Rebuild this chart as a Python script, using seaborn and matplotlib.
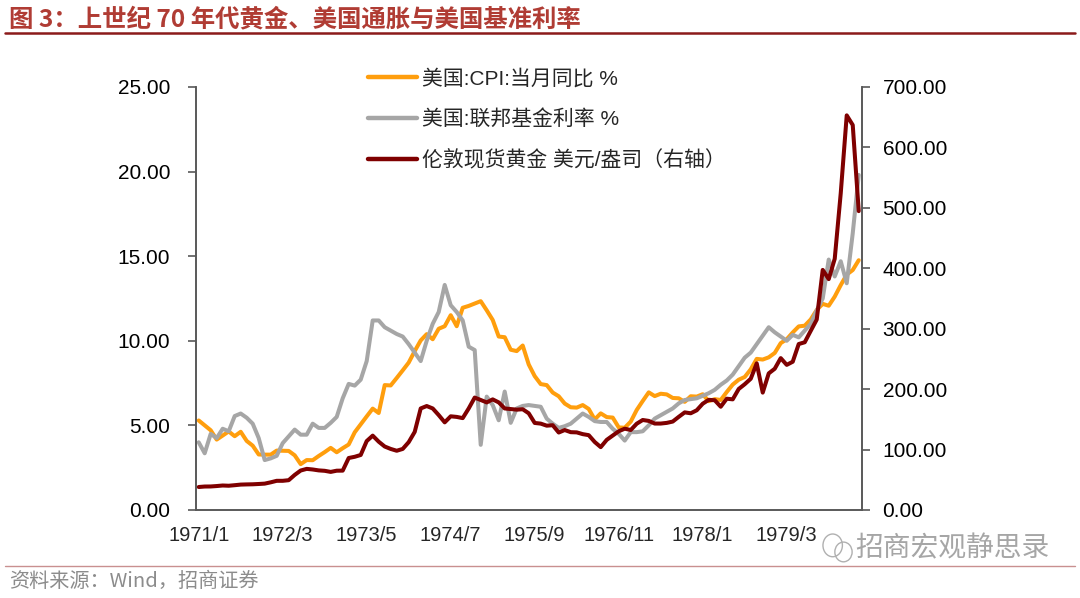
import numpy as np
import pandas as pd
import seaborn as sns
import matplotlib
matplotlib.use('Agg')
from matplotlib import pyplot as plt
from matplotlib.lines import Line2D
from matplotlib.patches import Ellipse

# monthly data 1971/1 - 1980/3
months = pd.period_range('1971-01', '1980-03', freq='M').strftime('%Y/%m').tolist()

cpi_yoy = [5.29, 5.00, 4.71, 4.16, 4.40, 4.64, 4.36, 4.62, 4.08, 3.80, 3.28, 3.27,
           3.27, 3.51, 3.50, 3.49, 3.23, 2.71, 2.95, 2.94, 3.19, 3.42, 3.67, 3.41,
           3.65, 3.87, 4.59, 5.06, 5.53, 5.99, 5.73, 7.38, 7.36, 7.80, 8.25, 8.71,
           9.39, 10.02, 10.39, 10.09, 10.71, 10.86, 11.51, 10.86, 11.95, 12.06, 12.20, 12.34,
           11.80, 11.23, 10.25, 10.21, 9.47, 9.39, 9.72, 8.60, 7.91, 7.44, 7.38, 6.94,
           6.72, 6.29, 6.07, 6.05, 6.20, 5.97, 5.35, 5.71, 5.49, 5.46, 4.88, 4.86,
           5.22, 5.91, 6.44, 6.95, 6.73, 6.87, 6.83, 6.62, 6.60, 6.39, 6.72, 6.70,
           6.84, 6.43, 6.55, 6.50, 6.97, 7.41, 7.70, 7.86, 8.31, 8.93, 8.89, 9.02,
           9.28, 9.86, 10.09, 10.49, 10.85, 10.89, 11.26, 11.82, 12.18, 12.07, 12.61, 13.29,
           13.91, 14.18, 14.76]

fed_funds = [4.00, 3.35, 4.50, 4.25, 4.80, 4.65, 5.55, 5.70, 5.45, 5.10, 4.25, 2.95,
             3.05, 3.20, 3.95, 4.35, 4.75, 4.45, 4.45, 5.10, 4.85, 4.85, 5.15, 5.50,
             6.60, 7.45, 7.35, 7.70, 8.80, 11.20, 11.20, 10.80, 10.60, 10.40, 10.25, 9.80,
             9.30, 8.80, 10.00, 11.00, 11.70, 13.30, 12.10, 11.70, 11.20, 9.65, 9.45, 3.85,
             6.70, 6.20, 5.30, 7.00, 5.15, 6.00, 6.15, 6.20, 6.15, 6.10, 5.40, 5.10,
             4.85, 4.95, 5.10, 5.40, 5.70, 5.50, 5.25, 5.20, 5.20, 4.80, 4.50, 4.10,
             4.60, 4.60, 4.65, 5.00, 5.40, 5.60, 5.80, 6.00, 6.30, 6.50, 6.55, 6.60,
             6.75, 6.90, 7.10, 7.40, 7.65, 8.00, 8.50, 9.00, 9.30, 9.80, 10.30, 10.80,
             10.50, 10.25, 10.00, 10.35, 10.20, 10.60, 11.00, 11.80, 12.50, 14.80, 13.80, 14.70,
             13.40, 16.35, 19.80]

gold = [38.0, 38.8, 38.9, 39.6, 40.5, 40.1, 41.0, 42.0, 42.3, 42.5, 43.0, 43.6,
        45.75, 48.25, 48.25, 49.3, 58.0, 65.3, 68.0, 67.0, 65.5, 64.8, 63.0, 65.0,
        65.1, 86.0, 88.0, 91.0, 114.0, 123.0, 113.0, 105.0, 101.0, 98.0, 101.0, 112.25,
        129.2, 168.0, 172.0, 168.0, 157.0, 145.0, 155.0, 154.0, 152.0, 168.0, 186.0, 182.0,
        178.0, 183.0, 178.0, 168.0, 167.0, 166.0, 166.7, 160.0, 144.0, 142.9, 139.5, 140.25,
        128.15, 132.3, 128.75, 128.4, 125.5, 123.8, 112.5, 104.0, 116.0, 123.15, 130.25, 134.5,
        132.3, 142.75, 148.9, 147.4, 143.0, 143.0, 144.1, 146.3, 154.1, 161.5, 160.0, 164.95,
        175.85, 182.25, 181.6, 170.85, 184.15, 183.05, 200.25, 208.1, 217.1, 242.6, 194.2, 226.0,
        233.7, 251.3, 240.1, 245.3, 274.6, 277.5, 296.45, 315.1, 397.25, 382.0, 415.65, 524.0,
        653.0, 637.0, 494.5]

tick_pos = [0, 14, 28, 42, 56, 70, 84, 98]
tick_labels = ['1971/1', '1972/3', '1973/5', '1974/7', '1975/9', '1976/11', '1978/1', '1979/3']

labels = ['美国:CPI:当月同比 %', '美国:联邦基金利率 %', '伦敦现货黄金 美元/盎司（右轴）']
colors = ['#FF9E0D', '#A6A6A6', '#7F0000']

df = pd.DataFrame({'idx': np.arange(len(months)), 'month': months,
                   'cpi': cpi_yoy, 'ff': fed_funds, 'gold': gold})

sns.set_style('white')
plt.rcParams['font.family'] = ['Liberation Sans', 'Noto Sans CJK SC', 'DejaVu Sans']

fig = plt.figure(figsize=(10.8, 5.98), dpi=100)
ax = fig.add_axes([0.1812, 0.1472, 0.6167, 0.7074])
ax2 = ax.twinx()

sns.lineplot(data=df, x='idx', y='cpi', ax=ax, color=colors[0], linewidth=2.9)
sns.lineplot(data=df, x='idx', y='ff', ax=ax, color=colors[1], linewidth=2.9)
sns.lineplot(data=df, x='idx', y='gold', ax=ax2, color=colors[2], linewidth=2.9)

ax.set_xlim(-0.5, len(months) - 0.5)
ax.set_ylim(0, 25)
ax2.set_ylim(0, 700)
ax.set_yticks(np.arange(0, 25.1, 5))
ax.set_yticklabels([f'{v:.2f}' for v in np.arange(0, 25.1, 5)])
ax2.set_yticks(np.arange(0, 701, 100))
ax2.set_yticklabels([f'{v:.2f}' for v in np.arange(0, 701, 100)])
ax.set_xticks(tick_pos)
ax.set_xticklabels(tick_labels, family=['Liberation Sans Narrow', 'Liberation Sans'], fontsize=14.5)
ax.set_xlabel('')
ax.set_ylabel('')
ax2.set_ylabel('')

for a in (ax, ax2):
    for s in a.spines.values():
        s.set_color('#595959')
        s.set_linewidth(1.2)
    a.spines['top'].set_visible(False)
ax.tick_params(axis='y', which='both', left=True, direction='out', length=6, width=1.2,
               color='#595959', labelsize=15, pad=12.5, labelcolor='black')
ax2.tick_params(axis='y', which='both', right=True, direction='out', length=6, width=1.2,
                color='#595959', labelsize=15, pad=9, labelcolor='black')
ax.tick_params(axis='x', bottom=False, pad=8)

handles = [Line2D([], [], color=c, linewidth=3.2) for c in colors]
fig.legend(handles, labels, loc='upper left', bbox_to_anchor=(0.3407, 0.885),
           frameon=False, handlelength=2.35, handletextpad=0.25,
           labelspacing=1.0, borderpad=0, borderaxespad=0,
           prop={'family': ['Liberation Sans', 'Noto Sans CJK SC'], 'size': 15})

# title, rules, source note
fig.text(0.008, 0.968, '图 3：上世纪 70 年代黄金、美国通胀与美国基准利率', color='#B03C34',
         fontsize=17.6, fontweight='bold', va='center', ha='left',
         family=['Noto Sans CJK SC', 'DejaVu Sans'])
fig.add_artist(Line2D([0.005, 0.995], [0.944, 0.944], color='#8B1A1A', linewidth=1.8))
fig.add_artist(Line2D([0.005, 0.995], [0.0535, 0.0535], color='#C99090', linewidth=1.0))
fig.text(0.008, 0.027, '资料来源：Wind，招商证券', color='#8C8C8C', fontsize=14.5,
         va='center', ha='left', family=['Noto Sans CJK SC', 'DejaVu Sans'])

# watermark
fig.text(0.792, 0.083, '招商宏观静思录', color='#A6A6A6', fontsize=20, va='center', ha='left',
         family=['Noto Sans CJK SC', 'DejaVu Sans'])
fig.add_artist(Ellipse((0.771, 0.088), 0.018, 0.038, fill=False, edgecolor='#B0B0B0', linewidth=1.0))
fig.add_artist(Ellipse((0.781, 0.077), 0.016, 0.033, fill=False, edgecolor='#B0B0B0', linewidth=1.0))

fig.savefig('out.png', dpi=100)
